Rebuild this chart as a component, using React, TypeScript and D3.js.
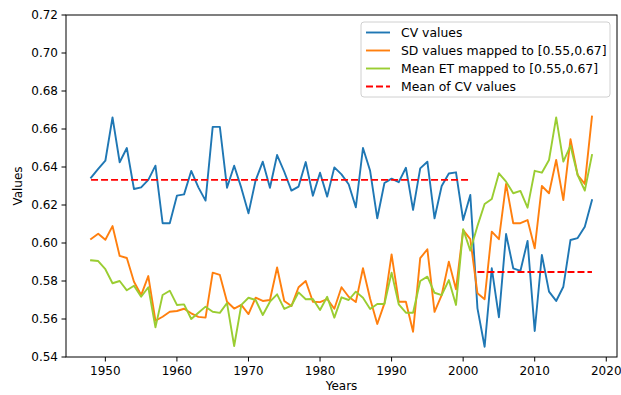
import React from "react";
import * as d3 from "d3";

const years: number[] = Array.from({ length: 71 }, (_, i) => 1948 + i);

const cvValues: number[] = [
  0.6344, 0.639, 0.6433, 0.6661, 0.6425, 0.650, 0.6284, 0.6293, 0.6332, 0.6407,
  0.6104, 0.6104, 0.6249, 0.6256, 0.6379, 0.6293, 0.6223, 0.6611, 0.6611, 0.6291,
  0.6407, 0.629, 0.6156, 0.633, 0.6428, 0.6291, 0.6463, 0.6375, 0.6276, 0.6297,
  0.6426, 0.6249, 0.637, 0.6244, 0.6398, 0.6361, 0.6309, 0.6188, 0.650, 0.638,
  0.613, 0.6316, 0.6339, 0.632, 0.6396, 0.6174, 0.6393, 0.6428, 0.613, 0.630,
  0.6366, 0.6372, 0.6121, 0.6253, 0.5656, 0.5454, 0.5867, 0.5609, 0.6047, 0.5867,
  0.5853, 0.6011, 0.5537, 0.5937, 0.5744, 0.5695, 0.577, 0.6016, 0.6026, 0.6086,
  0.6226,
];

const sdValues: number[] = [
  0.6021, 0.6049, 0.6017, 0.6089, 0.5932, 0.5921, 0.5796, 0.5726, 0.5826, 0.5591,
  0.5612, 0.5638, 0.5642, 0.5654, 0.563, 0.5611, 0.5607, 0.5844, 0.5832, 0.5691,
  0.5655, 0.5674, 0.5626, 0.5712, 0.5695, 0.570, 0.5871, 0.5695, 0.5668, 0.5767,
  0.580, 0.5691, 0.5689, 0.5705, 0.5654, 0.5767, 0.5717, 0.5689, 0.5867, 0.5707,
  0.5574, 0.5682, 0.594, 0.5691, 0.5691, 0.5533, 0.592, 0.5967, 0.5638, 0.5726,
  0.5902, 0.5756, 0.6068, 0.602, 0.5735, 0.5704, 0.606, 0.602, 0.6311, 0.6104,
  0.6104, 0.6121, 0.5972, 0.630, 0.6262, 0.6437, 0.6226, 0.6546, 0.6358, 0.6311,
  0.6665,
];

const etValues: number[] = [
  0.5909, 0.5905, 0.5862, 0.5788, 0.580, 0.5751, 0.5775, 0.5717, 0.5767, 0.5556,
  0.5726, 0.5749, 0.5674, 0.5677, 0.560, 0.5633, 0.5665, 0.5638, 0.5632, 0.5684,
  0.5458, 0.5674, 0.5712, 0.570, 0.5621, 0.5691, 0.573, 0.5653, 0.567, 0.574,
  0.5704, 0.5705, 0.5647, 0.5717, 0.5607, 0.5714, 0.570, 0.5744, 0.5712, 0.5653,
  0.5679, 0.5679, 0.5844, 0.5677, 0.5633, 0.5633, 0.580, 0.5823, 0.5738, 0.5726,
  0.5805, 0.5674, 0.6072, 0.596, 0.609, 0.6205, 0.6232, 0.6367, 0.6323, 0.6262,
  0.6274, 0.6186, 0.638, 0.637, 0.6437, 0.6661, 0.6428, 0.6512, 0.6358, 0.6276,
  0.6463,
];

const meanStart: number[] = [1948, 2002];
const meanEnd: number[] = [2001, 2018];
const meanValue: number[] = [0.6332, 0.5847];

const xTicks: number[] = [1950, 1960, 1970, 1980, 1990, 2000, 2010, 2020];
const yTicks: number[] = [0.54, 0.56, 0.58, 0.6, 0.62, 0.64, 0.66, 0.68, 0.7, 0.72];

const legendLabels: string[] = [
  "CV values",
  "SD values mapped to [0.55,0.67]",
  "Mean ET mapped to [0.55,0.67]",
  "Mean of CV values",
];

const W = 621;
const H = 395;
const L = 66, R = 617, T = 15, B = 357;
const FONT = "DejaVu Sans, sans-serif";

export default function App() {
  const x = d3.scaleLinear().domain([1944.5, 2021.5]).range([L, R]);
  const y = d3.scaleLinear().domain([0.54, 0.72]).range([B, T]);
  const line = d3
    .line<[number, number]>()
    .x((d) => x(d[0]))
    .y((d) => y(d[1]));

  const series = [
    { vals: cvValues, color: "#1f77b4" },
    { vals: sdValues, color: "#ff7f0e" },
    { vals: etValues, color: "#9acd32" },
  ];
  const legendColors = ["#1f77b4", "#ff7f0e", "#9acd32", "#ff0000"];

  const lgX = 361, lgY = 22, lgW = 249, lgH = 75;
  const rowY = [32.5, 50.5, 68.5, 86.5];

  return (
    <svg
      width={W}
      height={H}
      style={{ position: "absolute", left: 0, top: 0, background: "#fff" }}
      fontFamily={FONT}
    >
      <rect x={0} y={0} width={W} height={H} fill="#fff" />
      <defs>
        <clipPath id="plotclip">
          <rect x={L} y={T} width={R - L} height={B - T} />
        </clipPath>
      </defs>
      <g clipPath="url(#plotclip)">
        {series.map((s, i) => (
          <path
            key={i}
            d={line(years.map((yr, j) => [yr, s.vals[j]] as [number, number])) || ""}
            fill="none"
            stroke={s.color}
            strokeWidth={1.9}
            strokeLinejoin="round"
            strokeLinecap="square"
          />
        ))}
        {meanValue.map((v, i) => (
          <line
            key={i}
            x1={x(meanStart[i])}
            x2={x(meanEnd[i])}
            y1={y(v)}
            y2={y(v)}
            stroke="#ff0000"
            strokeWidth={1.9}
            strokeDasharray="7,3"
          />
        ))}
      </g>
      <rect x={L} y={T} width={R - L} height={B - T} fill="none" stroke="#000" strokeWidth={1} />
      {xTicks.map((t) => (
        <g key={t}>
          <line x1={x(t)} x2={x(t)} y1={B} y2={B + 4.5} stroke="#000" strokeWidth={1} />
          <text x={x(t)} y={B + 18} textAnchor="middle" fontSize={12} fill="#000">
            {t}
          </text>
        </g>
      ))}
      {yTicks.map((t) => (
        <g key={t}>
          <line x1={L - 4.5} x2={L} y1={y(t)} y2={y(t)} stroke="#000" strokeWidth={1} />
          <text x={L - 8} y={y(t) + 4.3} textAnchor="end" fontSize={12} fill="#000">
            {t.toFixed(2)}
          </text>
        </g>
      ))}
      <text x={(L + R) / 2} y={390} textAnchor="middle" fontSize={12} fill="#000">
        Years
      </text>
      <text
        transform={`translate(22, ${(T + B) / 2}) rotate(-90)`}
        textAnchor="middle"
        fontSize={12}
        fill="#000"
      >
        Values
      </text>
      <rect
        x={lgX}
        y={lgY}
        width={lgW}
        height={lgH}
        rx={3}
        fill="#fff"
        fillOpacity={0.8}
        stroke="#d0d0d0"
        strokeWidth={1}
      />
      {legendLabels.map((lab, i) => (
        <g key={lab}>
          <line
            x1={366}
            x2={390}
            y1={rowY[i]}
            y2={rowY[i]}
            stroke={legendColors[i]}
            strokeWidth={1.9}
            strokeDasharray={i === 3 ? "7,3" : undefined}
          />
          <text x={401} y={rowY[i] + 4.4} fontSize={12.4} fill="#000">
            {lab}
          </text>
        </g>
      ))}
    </svg>
  );
}
